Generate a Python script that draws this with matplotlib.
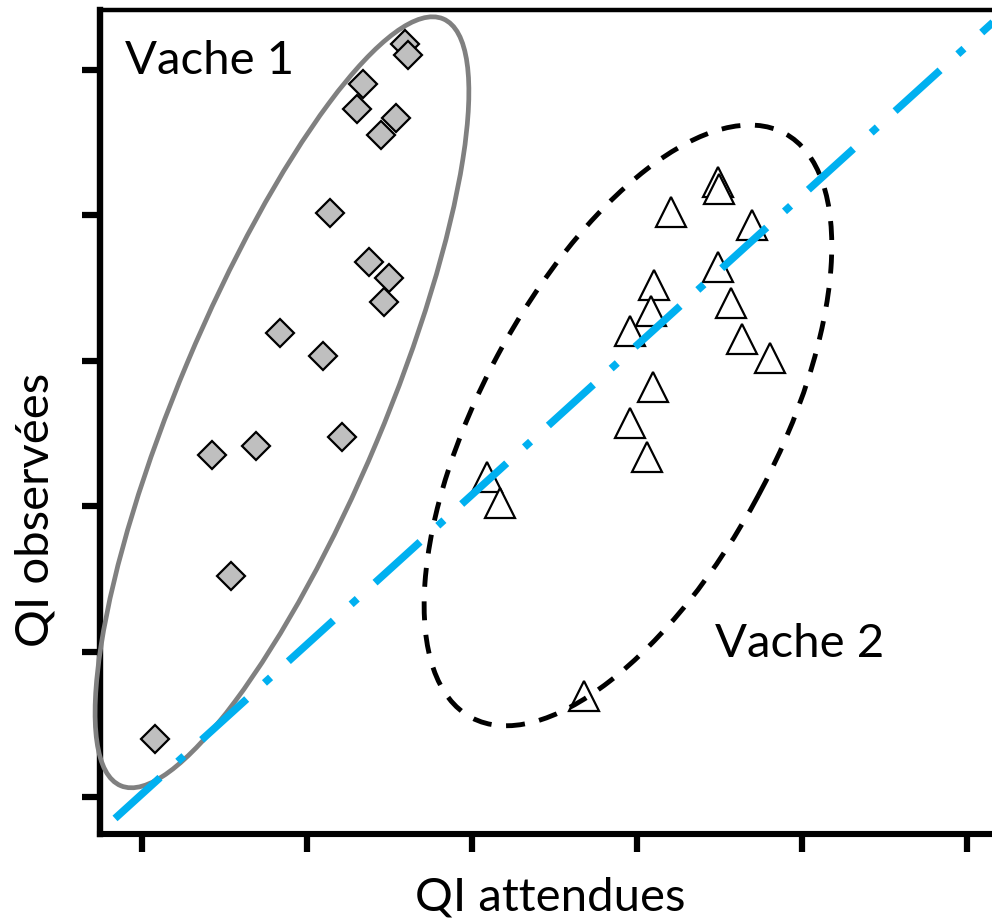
import numpy as np
import matplotlib
matplotlib.use("Agg")
import matplotlib.pyplot as plt
import matplotlib.transforms as mtransforms
from matplotlib.patches import Ellipse

plt.rcParams['font.family'] = ['Lato', 'DejaVu Sans']

# Vache 1 (diamonds)
v1_x = [2.594, 2.612, 2.339, 2.303, 2.539, 2.448, 2.139, 2.376, 2.497, 2.467,
        1.836, 2.097, 1.424, 1.691, 2.212, 1.539, 1.079]
v1_y = [6.177, 6.101, 5.902, 5.729, 5.667, 5.550, 5.020, 4.683, 4.572, 4.407,
        4.193, 4.035, 3.353, 3.415, 3.477, 2.520, 1.397]

# Vache 2 (triangles)
v2_x = [4.491, 4.497, 4.206, 4.697, 4.491, 4.103, 4.085, 3.958, 4.570, 4.636,
        4.806, 4.097, 3.958, 4.061, 3.091, 3.170, 3.679]
v2_y = [5.233, 5.185, 5.023, 4.934, 4.648, 4.521, 4.345, 4.207, 4.400, 4.149,
        4.018, 3.822, 3.574, 3.340, 3.198, 3.019, 1.694]

# reference line
line_x = [0.836, 6.30]
line_y = [0.853, 6.475]

# ellipses: center (data), width/height in x-units, angle in degrees
ell1 = dict(center=(1.848, 3.715), width=5.042, height=1.244, angle=67.2)
ell2 = dict(center=(3.945, 3.556), width=4.018, height=1.794, angle=61.8)

ticks = [1, 2, 3, 4, 5, 6]
xlim = (0.745, 6.200)
ylim = (0.746, 6.413)

W, H, DPI = 992, 921, 100
fig = plt.figure(figsize=(W / DPI, H / DPI), dpi=DPI)
ax_rect = [100 / W, 87 / H, 900 / W, 824 / H]
ax = fig.add_axes(ax_rect)
ax.set_xlim(*xlim)
ax.set_ylim(*ylim)

# ratio to draw ellipses with equal pixel scale in both directions
px_x = ax_rect[2] * W / (xlim[1] - xlim[0])
px_y = ax_rect[3] * H / (ylim[1] - ylim[0])
k = px_x / px_y
eq = mtransforms.Affine2D().scale(1, k) + ax.transData

e1 = Ellipse((ell1['center'][0], ell1['center'][1] / k), ell1['width'], ell1['height'],
             angle=ell1['angle'], transform=eq, fill=False, edgecolor='#808080',
             linewidth=3.4, zorder=2.6, clip_on=False)
ax.add_patch(e1)
e2 = Ellipse((ell2['center'][0], ell2['center'][1] / k), ell2['width'], ell2['height'],
             angle=ell2['angle'], transform=eq, fill=False, edgecolor='black',
             linewidth=3.5, linestyle=(0, (3.9, 3.0)), zorder=4)
ax.add_patch(e2)

ax.plot(v1_x, v1_y, linestyle='none', marker='D', markersize=14.5,
        markerfacecolor='#BFBFBF', markeredgecolor='black', markeredgewidth=1.6, zorder=3)
ax.plot(v2_x, v2_y, linestyle='none', marker='^', markersize=21.5,
        markerfacecolor='white', markeredgecolor='black', markeredgewidth=1.6, zorder=3)

ax.plot(line_x, line_y, color='#00B0F0', linewidth=5.4,
        linestyle=(0, (8.1, 3.2, 1.1, 3.2)), dash_capstyle='butt', zorder=5)

ax.text(0.897, 5.970, 'Vache 1', fontsize=34, ha='left', va='baseline')
ax.text(4.473, 1.962, 'Vache 2', fontsize=34, ha='left', va='baseline')

ax.set_xticks(ticks)
ax.set_yticks(ticks)
ax.set_xticklabels([])
ax.set_yticklabels([])
ax.tick_params(direction='out', length=13, width=4.5, color='black')
ax.spines['right'].set_visible(False)
ax.spines['left'].set_linewidth(4.6)
ax.spines['bottom'].set_linewidth(4.4)
ax.spines['top'].set_linewidth(3.2)

ax.set_xlabel('QI attendues', fontsize=34, labelpad=14)
ax.set_ylabel('QI observées', fontsize=34)
ax.yaxis.set_label_coords(-0.048, 0.393)

fig.savefig('out.png', dpi=DPI)
